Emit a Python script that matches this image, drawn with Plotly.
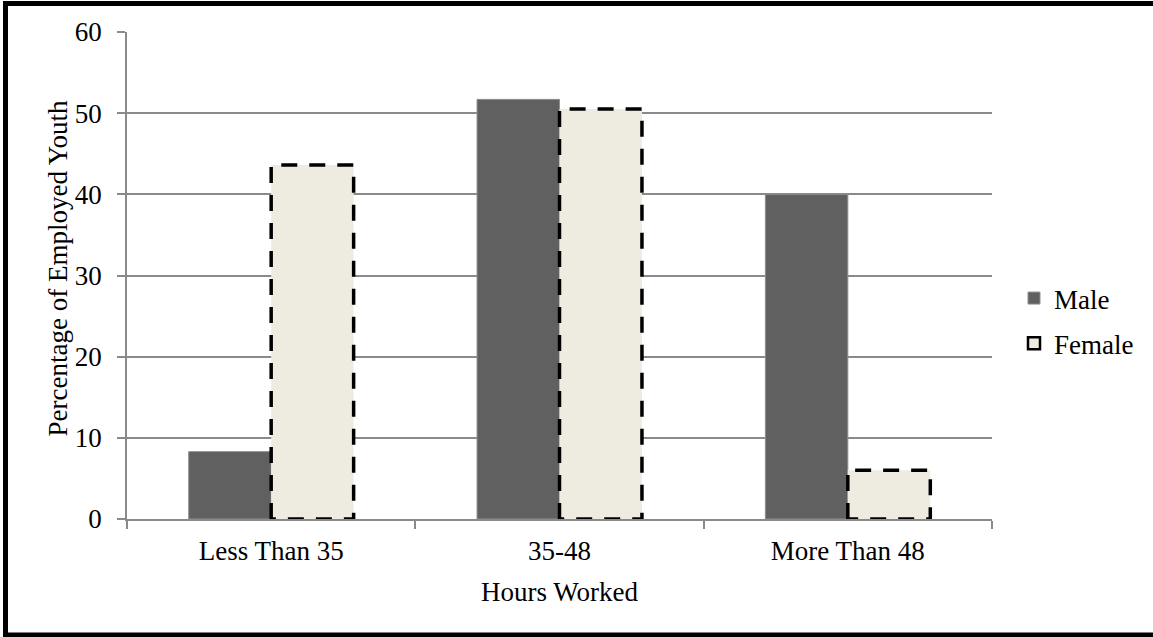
import numpy as np
import plotly.graph_objects as go

# Share of employed youth by weekly hours worked
CATEGORIES = ["Less Than 35", "35-48", "More Than 48"]
MALE = [8.3, 51.7, 40.0]
FEMALE = [43.6, 50.5, 6.0]
Y_TICKS = [0, 10, 20, 30, 40, 50, 60]

MALE_COLOR = "#606060"
FEMALE_COLOR = "#EEECE1"
GRID = "#8a8a8a"
FONT = "Liberation Serif"
FONT_SIZE = 27

W, H = 1153, 637
M_L, M_R, M_T, M_B = 127, 161, 32, 118
PLOT_W = W - M_L - M_R
PLOT_H = H - M_T - M_B

BAR_W = 0.286
pos = np.arange(len(CATEGORIES))

fig = go.Figure()

fig.add_trace(go.Bar(
    x=pos, y=MALE, width=BAR_W, offset=-BAR_W, name="Male",
    marker=dict(color=MALE_COLOR, line=dict(color="#8f8f8f", width=1)),
    legendgroup="m",
))
fig.add_trace(go.Bar(
    x=pos, y=FEMALE, width=BAR_W, offset=0, name="Female",
    marker=dict(color=FEMALE_COLOR, line=dict(width=0)),
    showlegend=False, legendgroup="f",
))

# dashed outline around each female bar
ox, oy = [], []
for p, v in zip(pos, FEMALE):
    ox += [p, p, p + BAR_W, p + BAR_W, p, None]
    oy += [0, v, v, 0, 0, None]
fig.add_trace(go.Scatter(
    x=ox, y=oy, mode="lines", showlegend=False, hoverinfo="skip",
    line=dict(color="black", width=3.5, dash="16px,12px"),
    legendgroup="f",
))

# legend swatch for the outlined series
fig.add_trace(go.Bar(
    x=[None], y=[None], name="Female", legendgroup="f",
    marker=dict(color=FEMALE_COLOR, line=dict(color="black", width=2.5)),
))

def px_to_paper_x(px):
    return (px - M_L) / PLOT_W

def px_to_paper_y(py):
    return (H - M_B - py) / PLOT_H

# outer frame
fig.add_shape(
    type="rect", xref="paper", yref="paper",
    x0=px_to_paper_x(5.5), x1=px_to_paper_x(1170),
    y0=px_to_paper_y(635), y1=px_to_paper_y(3.5),
    line=dict(color="black", width=5), fillcolor="rgba(0,0,0,0)",
)

# vertical axis title
fig.add_annotation(
    text="Percentage of Employed Youth", textangle=-90,
    xref="paper", yref="paper",
    x=px_to_paper_x(57), y=px_to_paper_y(268.5),
    xanchor="center", yanchor="middle", showarrow=False,
    font=dict(family=FONT, size=FONT_SIZE, color="black"),
)

fig.update_layout(
    width=W, height=H,
    margin=dict(l=M_L, r=M_R, t=M_T, b=M_B),
    paper_bgcolor="white", plot_bgcolor="white",
    font=dict(family=FONT, size=FONT_SIZE, color="black"),
    showlegend=True,
    legend=dict(
        x=px_to_paper_x(1014), xanchor="left",
        y=px_to_paper_y(321), yanchor="middle",
        tracegroupgap=7, traceorder="grouped",
        font=dict(family=FONT, size=FONT_SIZE, color="black"),
        bgcolor="rgba(0,0,0,0)",
    ),
    xaxis=dict(
        range=[-0.5, len(CATEGORIES) - 0.5],
        tickmode="array", tickvals=pos, ticktext=CATEGORIES,
        ticks="", showgrid=False, zeroline=False,
        showline=True, linecolor=GRID, linewidth=1.5,
        ticklabelstandoff=7,
        minor=dict(
            tickmode="array",
            tickvals=list(np.arange(-0.5, len(CATEGORIES), 1.0)),
            ticks="outside", ticklen=8, tickcolor=GRID, tickwidth=1.5,
            showgrid=False,
        ),
        title=dict(text="Hours Worked", standoff=17,
                   font=dict(family=FONT, size=FONT_SIZE)),
    ),
    yaxis=dict(
        range=[0, 60], tickmode="array", tickvals=Y_TICKS,
        ticks="outside", ticklen=8, tickcolor=GRID, tickwidth=1.5,
        showgrid=True, gridcolor=GRID, gridwidth=1.5,
        zeroline=False, showline=True, linecolor=GRID, linewidth=1.5,
        ticklabelstandoff=10,
    ),
    bargap=0.43,
)

fig.write_html("out.html")
